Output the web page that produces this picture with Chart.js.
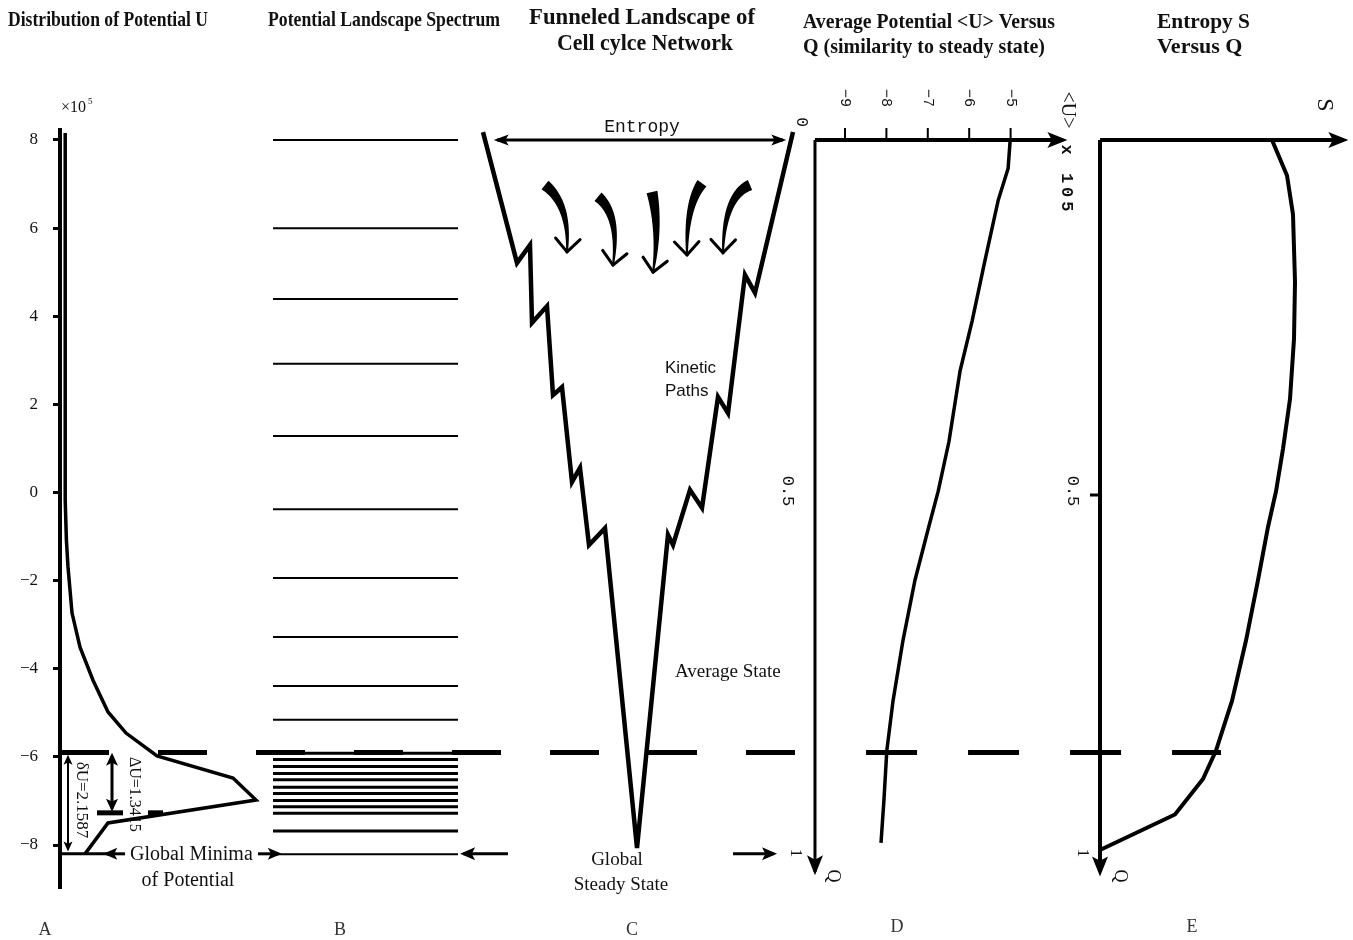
<!DOCTYPE html>
<html>
<head>
<meta charset="utf-8">
<title>Funneled Landscape of Cell cycle Network</title>
<script src="https://cdn.jsdelivr.net/npm/chart.js@4.4.1/dist/chart.umd.min.js"></script>
<style>
  html, body { margin: 0; padding: 0; background: #fff; }
</style>
</head>
<body>
<canvas id="fig" width="1353" height="940"></canvas>
<script>
// ---- values (U in units of 1e5) ----
// A: distribution of the potential U
var distDensity = [0.026, 0.026, 0.032, 0.04, 0.06, 0.10, 0.165, 0.24, 0.33, 0.485, 0.865, 0.98, 0.24, 0.14, 0.125];
var distU       = [8.16, -0.17, -1.08, -1.69, -2.73, -3.51, -4.26, -4.98, -5.46, -5.98, -6.48, -6.98, -7.50, -8.11, -8.20];
var uTicks = [-8, -6, -4, -2, 0, 2, 4, 6, 8];

// B: potential landscape spectrum (energy levels)
var spectrumLevels = [8.0, 6.0, 4.39, 2.92, 1.28, -0.38, -1.94, -3.28, -4.39, -5.16,
                      -5.92, -6.06, -6.22, -6.38, -6.52, -6.69, -6.83, -6.99, -7.13, -7.28, -7.68, -8.21];

// C: funnel outline (width from centre, U)
var funnelX = [-1.54, -1.20, -1.07, -1.05, -0.90, -0.84, -0.75, -0.65, -0.57, -0.48, -0.32, 0.0,
               0.31, 0.36, 0.53, 0.65, 0.81, 0.91, 1.08, 1.18, 1.56];
var funnelU = [8.18, 5.21, 5.62, 3.85, 4.23, 2.21, 2.39, 0.24, 0.56, -1.19, -0.81, -8.07,
               -0.96, -1.19, 0.06, -0.35, 2.17, 1.80, 4.94, 4.53, 8.18];
// kinetic path arrows: [x0, u0, xCtrl, uCtrl, x1, u1]
var flowArrows = [
  [-0.92, 6.98, -0.67, 6.53, -0.70, 5.46],
  [-0.39, 6.71, -0.17, 6.30, -0.24, 5.16],
  [ 0.15, 6.82,  0.23, 5.96,  0.16, 5.00],
  [ 0.65, 7.02,  0.49, 6.53,  0.50, 5.39],
  [ 1.13, 6.98,  0.87, 6.73,  0.86, 5.44]
];

// D: average potential <U> versus Q
var qD   = [0, 0.04, 0.085, 0.17, 0.255, 0.325, 0.425, 0.495, 0.55, 0.62, 0.705, 0.79, 0.86, 0.93, 0.99];
var avgU = [-5.01, -5.06, -5.30, -5.62, -5.93, -6.22, -6.49, -6.75, -7.00, -7.31, -7.60, -7.84, -7.99, -8.06, -8.13];
var avgUTicks = [-9, -8, -7, -6, -5];

// E: entropy S versus Q
var qE       = [0, 0.05, 0.105, 0.2, 0.28, 0.365, 0.435, 0.495, 0.545, 0.62, 0.705, 0.79, 0.86, 0.9, 0.95, 1.0];
var entropyS = [0.86, 0.935, 0.965, 0.975, 0.97, 0.95, 0.915, 0.88, 0.84, 0.79, 0.73, 0.66, 0.58, 0.515, 0.375, 0.0];

var dashLevelU = -5.9;
var globalMinU = -8.2;
var deltaLevelU = -7.27;

// ---- layout: every panel has its own hidden scale over one shared plot area ----
var AREA = { left: 60, right: 1353, top: 130, bottom: 888 };
function spanX(pxAt, valAt, ppu) {
    var min = valAt - (pxAt - AREA.left) / ppu;
    return { min: min, max: min + (AREA.right - AREA.left) / ppu };
}
function spanYUp(pxAt, valAt, ppu) {
    var max = valAt + (pxAt - AREA.top) / ppu;
    return { min: max - (AREA.bottom - AREA.top) / ppu, max: max };
}
function spanYDown(pxAt, valAt, ppu) {
    var min = valAt - (pxAt - AREA.top) / ppu;
    return { min: min, max: min + (AREA.bottom - AREA.top) / ppu };
}
var sA = spanX(60, 0, 200);
var sB = spanX(273, 0, 185);
var sC = spanX(637, 0, 100);
var sD = spanX(845, -9, 41.4);
var sE = spanX(1100, 0, 200);
var sP = spanX(60, 0, 12.93);     // figure-wide units (percent of width)
var sU = spanYUp(140, 8, 44.0625);
var sQ = spanYDown(140, 0, 710);

function hiddenX(s) { return { type: 'linear', display: false, position: 'bottom', min: s.min, max: s.max }; }

function pts(xs, ys) {
    return xs.map(function (x, i) { return { x: x, y: ys[i] }; });
}
function line(xid, yid, data, width, extra) {
    return Object.assign({
        xAxisID: xid, yAxisID: yid, data: data, showLine: true,
        borderColor: '#000', borderWidth: width, pointRadius: 0,
        fill: false, tension: 0, clip: false, spanGaps: false,
        borderJoinStyle: 'miter', borderCapStyle: 'butt'
    }, extra || {});
}
function levelSegs(levels, x0, x1) {
    var out = [];
    levels.forEach(function (u) {
        out.push({ x: x0, y: u }, { x: x1, y: u }, { x: x1, y: null });
    });
    return out;
}
function vSegs(xs, y0, y1) {
    var out = [];
    xs.forEach(function (x) { out.push({ x: x, y: y0 }, { x: x, y: y1 }, { x: x, y: null }); });
    return out;
}

var denseLevels = spectrumLevels.filter(function (u) { return u < -5.85 && u > -8; });
var thinLevels = spectrumLevels.filter(function (u) { return !(u < -5.85 && u > -8); });

var dAxisU = -9.725, dArrowU = -3.734, qArrow = 1.031;

var datasets = [
    // A
    line('xA', 'yU', pts(distDensity, distU), 3.5),
    line('xA', 'yU', [{ x: 0, y: globalMinU }, { x: 0.25, y: globalMinU }], 3),
    line('xA', 'yU', [{ x: 0.04, y: -6.0 }, { x: 0.04, y: -8.1 }], 2,
         { arrowStart: true, arrowEnd: true, headLen: 10, headHalf: 4.5 }),
    line('xA', 'yU', [{ x: 0.26, y: -5.98 }, { x: 0.26, y: -7.17 }], 3,
         { arrowStart: true, arrowEnd: true, headLen: 13, headHalf: 6 }),
    line('xA', 'yU', [{ x: 0.185, y: deltaLevelU }, { x: 0.315, y: deltaLevelU }], 5),
    line('xA', 'yU', [{ x: 0.44, y: deltaLevelU }, { x: 0.515, y: deltaLevelU }], 5),
    // B
    line('xB', 'yU', levelSegs(thinLevels, 0, 1), 2),
    line('xB', 'yU', levelSegs(denseLevels, 0, 1), 3),
    // C
    line('xC', 'yU', pts(funnelX, funnelU), 4.5),
    line('xC', 'yU', [{ x: -1.40, y: 8.0 }, { x: 1.46, y: 8.0 }], 3,
         { arrowStart: true, arrowEnd: true, headLen: 15, headHalf: 5.5 }),
    // across panels
    line('xP', 'yU', [{ x: 0, y: dashLevelU }, { x: 58.39, y: dashLevelU }], 5, { borderDash: [49, 49] }),
    line('xP', 'yU', [{ x: 62.34, y: dashLevelU }, { x: 89.79, y: dashLevelU }], 5, { borderDash: [51, 51] }),
    line('xP', 'yU', [{ x: 5.03, y: globalMinU }, { x: 3.6, y: globalMinU }], 3, { arrowEnd: true, headLen: 14, headHalf: 6 }),
    line('xP', 'yU', [{ x: 15.31, y: globalMinU }, { x: 16.9, y: globalMinU }], 3, { arrowEnd: true, headLen: 14, headHalf: 6 }),
    line('xP', 'yU', [{ x: 34.65, y: globalMinU }, { x: 31.2, y: globalMinU }], 3, { arrowEnd: true, headLen: 15, headHalf: 6.5 }),
    line('xP', 'yU', [{ x: 52.05, y: globalMinU }, { x: 55.2, y: globalMinU }], 3, { arrowEnd: true, headLen: 15, headHalf: 6.5 }),
    // D
    line('xD', 'yQ', [{ x: dAxisU, y: 0 }, { x: dAxisU, y: qArrow }], 3, { arrowEnd: true, headLen: 20, headHalf: 8 }),
    line('xD', 'yQ', [{ x: dAxisU, y: 0 }, { x: dArrowU, y: 0 }], 4, { arrowEnd: true, headLen: 20, headHalf: 8 }),
    line('xD', 'yQ', vSegs(avgUTicks, 0, -0.017), 2),
    line('xD', 'yQ', pts(avgU, qD), 3.5),
    // E
    line('xE', 'yQ', [{ x: 0, y: 0 }, { x: 0, y: qArrow }], 4, { arrowEnd: true, headLen: 20, headHalf: 8 }),
    line('xE', 'yQ', [{ x: 0, y: 0 }, { x: 1.22, y: 0 }], 4, { arrowEnd: true, headLen: 20, headHalf: 8 }),
    line('xE', 'yQ', [{ x: -0.05, y: 0.5 }, { x: 0, y: 0.5 }], 3),
    line('xE', 'yQ', pts(entropyS, qE), 4)
];

// ---- drawing helpers ----
function text(ctx, str, x, y, font, o) {
    o = o || {};
    ctx.save();
    ctx.font = font;
    ctx.fillStyle = o.color || '#111';
    ctx.textAlign = o.align || 'left';
    ctx.textBaseline = 'middle';
    if (o.spacing) ctx.letterSpacing = o.spacing;
    ctx.translate(x, y);
    if (o.rotate) ctx.rotate(o.rotate);
    if (o.maxWidth) ctx.fillText(str, 0, 0, o.maxWidth);
    else ctx.fillText(str, 0, 0);
    ctx.restore();
}
function head(ctx, x0, y0, x1, y1, len, half, extend) {
    var a = Math.atan2(y1 - y0, x1 - x0);
    ctx.save();
    ctx.translate(x1 + Math.cos(a) * extend, y1 + Math.sin(a) * extend);
    ctx.rotate(a);
    ctx.beginPath();
    ctx.moveTo(0, 0);
    ctx.lineTo(-len, -half);
    ctx.lineTo(-len * 0.78, 0);
    ctx.lineTo(-len, half);
    ctx.closePath();
    ctx.fill();
    ctx.restore();
}

var CW = Math.PI / 2;
var SERIF = '"Liberation Serif", "Times New Roman", serif';
var MONO = '"Liberation Mono", "DejaVu Sans Mono", monospace';

var figureText = {
    id: 'figureText',
    beforeDatasetsDraw: function (chart) {
        var ctx = chart.ctx, s = chart.scales;
        var tb = 'bold 22px ' + SERIF;
        // titles
        text(ctx, 'Distribution of Potential U', 8, 20, tb, { maxWidth: 200 });
        text(ctx, 'Potential Landscape Spectrum', 268, 20, tb, { maxWidth: 232 });
        text(ctx, 'Funneled Landscape of', 642, 18, 'bold 23px ' + SERIF, { align: 'center', maxWidth: 226 });
        text(ctx, 'Cell cylce Network', 645, 44, 'bold 23px ' + SERIF, { align: 'center', maxWidth: 176 });
        text(ctx, 'Average Potential <U> Versus', 803, 22, tb, { maxWidth: 252 });
        text(ctx, 'Q (similarity to steady state)', 803, 47, tb, { maxWidth: 242 });
        text(ctx, 'Entropy S', 1157, 22, tb, { maxWidth: 93 });
        text(ctx, 'Versus Q', 1157, 47, tb, { maxWidth: 86 });

        // A
        text(ctx, '\u00d710', 61, 108, '16px ' + SERIF);
        text(ctx, '5', 88, 102, '9px ' + SERIF);
        text(ctx, '\u03b4U=2.1587', 81, 800, '17px ' + SERIF, { rotate: CW, align: 'center' });
        text(ctx, '\u0394U=1.3415', 134, 757, '16px ' + SERIF, { rotate: CW });
        text(ctx, 'Global Minima', 130, 855, '20px ' + SERIF, { maxWidth: 128 });
        text(ctx, 'of Potential', 188, 881, '20px ' + SERIF, { align: 'center' });

        // C
        text(ctx, 'Entropy', 642, 127, '18px ' + MONO, { align: 'center' });
        text(ctx, 'Kinetic', 665, 368, '17px "Liberation Sans", Arial, sans-serif');
        text(ctx, 'Paths', 665, 391, '17px "Liberation Sans", Arial, sans-serif');
        text(ctx, 'Average State', 675, 672, '19px ' + SERIF);
        text(ctx, 'Global', 617, 860, '19px ' + SERIF, { align: 'center' });
        text(ctx, 'Steady State', 621, 885, '19px ' + SERIF, { align: 'center' });

        // D axis labels
        var yTop = s.yQ.getPixelForValue(0);
        var dx = s.xD.getPixelForValue(dAxisU);
        avgUTicks.forEach(function (v) {
            text(ctx, '\u2212' + Math.abs(v), s.xD.getPixelForValue(v), yTop - 42, '15px ' + MONO,
                 { rotate: CW, align: 'center' });
        });
        text(ctx, '<U>', s.xD.getPixelForValue(dArrowU) + 4, 110, '20px ' + SERIF, { rotate: CW, align: 'center' });
        text(ctx, 'x 105', s.xD.getPixelForValue(dArrowU) + 3, 180, 'bold 17px ' + MONO,
             { rotate: CW, align: 'center', spacing: '4px' });
        text(ctx, '0', dx - 14, yTop - 18, '16px ' + MONO, { rotate: CW, align: 'center' });
        text(ctx, '0.5', dx - 27, s.yQ.getPixelForValue(0.5) - 4, '17px ' + MONO, { rotate: CW, align: 'center' });
        text(ctx, '1', dx - 20, s.yQ.getPixelForValue(1) + 3, '17px ' + SERIF, { rotate: CW, align: 'center' });
        text(ctx, 'Q', dx + 18, s.yQ.getPixelForValue(qArrow) + 4, '18px ' + SERIF, { rotate: CW, align: 'center' });

        // E axis labels
        var ex = s.xE.getPixelForValue(0);
        text(ctx, '0.5', ex - 28, s.yQ.getPixelForValue(0.5) - 4, '17px ' + MONO, { rotate: CW, align: 'center' });
        text(ctx, '1', ex - 18, s.yQ.getPixelForValue(1) + 3, '17px ' + SERIF, { rotate: CW, align: 'center' });
        text(ctx, 'Q', ex + 20, s.yQ.getPixelForValue(qArrow) + 4, '18px ' + SERIF, { rotate: CW, align: 'center' });
        text(ctx, 'S', s.xE.getPixelForValue(1.22) - 20, 105, '24px ' + SERIF, { rotate: CW, align: 'center' });

        // panel letters
        var lf = '18px ' + SERIF;
        text(ctx, 'A', 45, 930, lf, { align: 'center', color: '#333' });
        text(ctx, 'B', 340, 930, lf, { align: 'center', color: '#333' });
        text(ctx, 'C', 632, 930, lf, { align: 'center', color: '#333' });
        text(ctx, 'D', 897, 927, lf, { align: 'center', color: '#333' });
        text(ctx, 'E', 1192, 927, lf, { align: 'center', color: '#333' });
    },
    afterDatasetsDraw: function (chart) {
        var ctx = chart.ctx, s = chart.scales;
        ctx.save();
        ctx.fillStyle = '#000';
        ctx.strokeStyle = '#000';
        // arrow heads on flagged datasets
        chart.data.datasets.forEach(function (ds, i) {
            if (!ds.arrowEnd && !ds.arrowStart) return;
            var p = chart.getDatasetMeta(i).data, n = p.length;
            var ext = ds.borderWidth * 1.1;
            if (ds.arrowEnd) head(ctx, p[n - 2].x, p[n - 2].y, p[n - 1].x, p[n - 1].y, ds.headLen, ds.headHalf, ext);
            if (ds.arrowStart) head(ctx, p[1].x, p[1].y, p[0].x, p[0].y, ds.headLen, ds.headHalf, ext);
        });
        // kinetic path arrows inside the funnel (tapered curves)
        flowArrows.forEach(function (a) {
            var P0 = [s.xC.getPixelForValue(a[0]), s.yU.getPixelForValue(a[1])];
            var C = [s.xC.getPixelForValue(a[2]), s.yU.getPixelForValue(a[3])];
            var P1 = [s.xC.getPixelForValue(a[4]), s.yU.getPixelForValue(a[5])];
            var N = 24, left = [], right = [];
            for (var k = 0; k <= N; k++) {
                var t = k / N, u = 1 - t;
                var x = u * u * P0[0] + 2 * u * t * C[0] + t * t * P1[0];
                var y = u * u * P0[1] + 2 * u * t * C[1] + t * t * P1[1];
                var dxv = 2 * u * (C[0] - P0[0]) + 2 * t * (P1[0] - C[0]);
                var dyv = 2 * u * (C[1] - P0[1]) + 2 * t * (P1[1] - C[1]);
                var len = Math.hypot(dxv, dyv) || 1;
                var w = (11 * u + 1.8 * t) / 2;
                left.push([x - dyv / len * w, y + dxv / len * w]);
                right.push([x + dyv / len * w, y - dxv / len * w]);
            }
            ctx.beginPath();
            ctx.moveTo(left[0][0], left[0][1]);
            left.forEach(function (q) { ctx.lineTo(q[0], q[1]); });
            right.reverse().forEach(function (q) { ctx.lineTo(q[0], q[1]); });
            ctx.closePath();
            ctx.fill();
            var ang = Math.atan2(P1[1] - C[1], P1[0] - C[0]);
            ctx.lineWidth = 3;
            ctx.lineCap = 'round';
            [-0.75, 0.75].forEach(function (d) {
                ctx.beginPath();
                ctx.moveTo(P1[0], P1[1]);
                ctx.lineTo(P1[0] - Math.cos(ang + d) * 18, P1[1] - Math.sin(ang + d) * 18);
                ctx.stroke();
            });
        });
        ctx.restore();
    }
};

new Chart(document.getElementById('fig'), {
    type: 'scatter',
    data: { datasets: datasets },
    options: {
        responsive: false,
        animation: false,
        events: [],
        layout: { padding: { top: AREA.top, bottom: 940 - AREA.bottom, left: 0, right: 0 } },
        plugins: { legend: { display: false }, tooltip: { enabled: false } },
        scales: {
            yU: {
                type: 'linear', position: 'left', min: sU.min, max: sU.max,
                afterFit: function (sc) { sc.width = AREA.left; },
                afterBuildTicks: function (sc) { sc.ticks = uTicks.map(function (v) { return { value: v }; }); },
                ticks: {
                    padding: 15, color: '#111',
                    font: { family: SERIF, size: 17 },
                    callback: function (v) { return String(v).replace('-', '\u2212'); }
                },
                grid: { drawOnChartArea: false, drawTicks: true, tickLength: 7, tickWidth: 3, tickColor: '#000' },
                border: { display: true, width: 4, color: '#000' }
            },
            yQ: { type: 'linear', display: false, position: 'right', reverse: true, min: sQ.min, max: sQ.max },
            xA: hiddenX(sA),
            xB: hiddenX(sB),
            xC: hiddenX(sC),
            xD: hiddenX(sD),
            xE: hiddenX(sE),
            xP: hiddenX(sP)
        }
    },
    plugins: [figureText]
});
</script>
</body>
</html>
